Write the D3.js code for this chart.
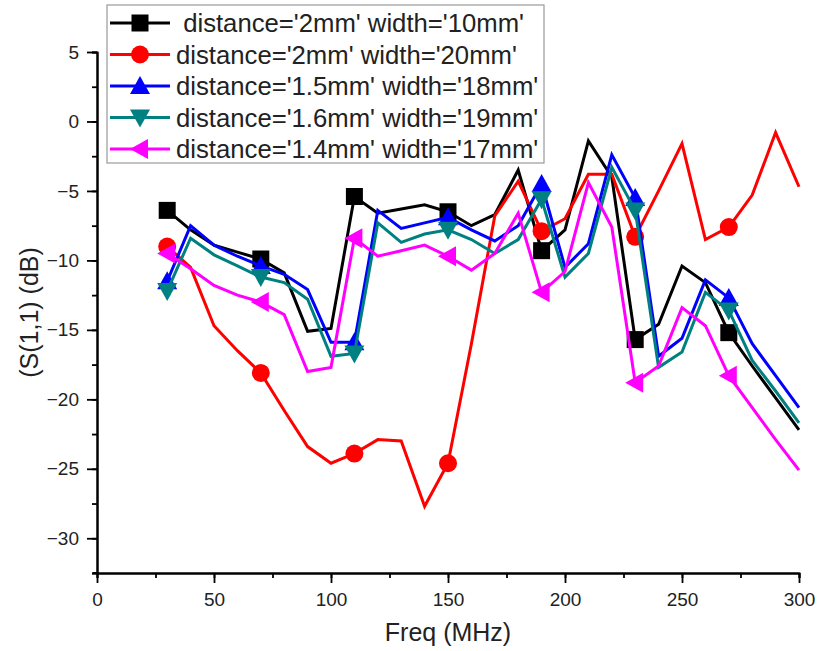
<!DOCTYPE html>
<html>
<head>
<meta charset="utf-8">
<script src="https://cdn.jsdelivr.net/npm/d3@7"></script>
<style>
  html, body { margin: 0; padding: 0; background: #fff; }
  svg { display: block; font-family: "Liberation Sans", Arial, sans-serif; }
</style>
</head>
<body>
<svg id="chart" width="820" height="651"></svg>
<script>
// Frequency sweep (MHz)
const freq = [30, 40, 50, 60, 70, 80, 90, 100, 110, 120, 130, 140, 150, 160,
              170, 180, 190, 200, 210, 220, 230, 240, 250, 260, 270, 280, 290, 300];

// S11 (dB) for each geometry
const s11_d2_w10 = [-6.4, -7.8, -8.9, -9.4, -9.9, -10.9, -15.1, -14.9, -5.4, -6.6, -6.3, -6.0, -6.5, -7.5,
                    -6.7, -3.5, -9.3, -7.8, -1.4, -4.0, -15.7, -14.6, -10.4, -11.6, -15.2, -17.6, -19.9, -22.2];
const s11_d2_w20 = [-9.0, -10.5, -14.7, -16.5, -18.1, -20.8, -23.4, -24.6, -23.9, -22.9, -23.0, -27.7, -24.6, -16.0,
                    -6.8, -4.3, -7.9, -7.0, -3.8, -3.8, -8.3, -5.0, -1.6, -8.5, -7.6, -5.3, -0.8, -4.7];
const s11_d15_w18 = [-11.5, -7.5, -8.9, -9.7, -10.4, -11.0, -12.1, -15.9, -15.9, -6.4, -7.7, -7.3, -6.9, -7.8,
                     -8.6, -7.5, -4.5, -10.5, -8.8, -2.4, -5.5, -16.9, -15.6, -11.4, -12.7, -16.0, -18.3, -20.6];
const s11_d16_w19 = [-12.2, -8.4, -9.6, -10.4, -11.2, -11.6, -12.8, -16.9, -16.7, -7.3, -8.7, -8.1, -7.8, -8.5,
                     -9.5, -8.5, -5.6, -11.2, -9.5, -3.3, -6.4, -17.7, -16.6, -12.3, -13.6, -17.2, -19.4, -21.7];
const s11_d14_w17 = [-9.5, -10.6, -11.8, -12.5, -13.0, -13.9, -18.0, -17.7, -8.4, -9.7, -9.3, -8.9, -9.7, -10.7,
                     -9.5, -6.6, -12.3, -10.8, -4.4, -7.6, -18.8, -17.6, -13.4, -14.7, -18.3, -20.6, -22.9, -25.1];

const seriesNames = [
  " distance='2mm' width='10mm'",
  "distance='2mm' width='20mm'",
  "distance='1.5mm' width='18mm'",
  "distance='1.6mm' width='19mm'",
  "distance='1.4mm' width='17mm'"
];
const seriesValues = [s11_d2_w10, s11_d2_w20, s11_d15_w18, s11_d16_w19, s11_d14_w17];
const seriesColors = ["#000000", "#ff0000", "#0000ff", "#008080", "#ff00ff"];
const seriesMarkers = ["square", "circle", "triUp", "triDown", "triLeft"];

const xTicks = [0, 50, 100, 150, 200, 250, 300];
const yTicks = [5, 0, -5, -10, -15, -20, -25, -30];

// Plot frame
const plotL = 97, plotR = 799, plotT = 52, plotB = 573;
const svg = d3.select("#chart");

const x = d3.scaleLinear().domain([0, 300]).range([plotL, plotR]);
const y = d3.scaleLinear().domain([-32.5, 5]).range([plotB, plotT]);

// Marker shapes, centred on the point
function markerPath(kind) {
  switch (kind) {
    case "square": return "M-8.5,-8.5H8.5V8.5H-8.5Z";
    case "circle": return "M9,0A9,9 0 1,1 -9,0A9,9 0 1,1 9,0Z";
    case "triUp": return "M0,-10L10,8L-10,8Z";
    case "triDown": return "M0,10L10,-8L-10,-8Z";
    case "triLeft": return "M-10,0L8,-10L8,10Z";
  }
}

// Axes
const axisFont = 19;
const xMinor = d3.range(0, 301, 25);
const yMinor = d3.range(-32.5, 5.01, 2.5);

const gx = svg.append("g").attr("transform", `translate(0,${plotB})`);
gx.call(d3.axisBottom(x).tickValues(xMinor).tickSize(5).tickFormat(""));
const gx2 = svg.append("g").attr("transform", `translate(0,${plotB})`);
gx2.call(d3.axisBottom(x).tickValues(xTicks).tickSize(10).tickSizeOuter(0).tickPadding(10).tickFormat(d3.format("d")));

const gy = svg.append("g").attr("transform", `translate(${plotL},0)`);
gy.call(d3.axisLeft(y).tickValues(yMinor).tickSize(5).tickFormat(""));
const gy2 = svg.append("g").attr("transform", `translate(${plotL},0)`);
gy2.call(d3.axisLeft(y).tickValues(yTicks).tickSize(10).tickSizeOuter(0).tickPadding(8).tickFormat(d3.format("d")));

[gx, gx2, gy, gy2].forEach(g => {
  g.attr("font-family", "'Liberation Sans', Arial, sans-serif");
  g.selectAll(".domain").attr("stroke", "#000").attr("stroke-width", 2);
  g.selectAll(".tick line").attr("stroke", "#000").attr("stroke-width", 1.8);
  g.selectAll("text").attr("font-size", axisFont).attr("fill", "#222");
});
// x axis line reaches just past the y axis
svg.append("line").attr("x1", plotL - 4).attr("x2", plotL).attr("y1", plotB).attr("y2", plotB)
  .attr("stroke", "#000").attr("stroke-width", 2);

// Axis titles
svg.append("text")
  .attr("x", (plotL + plotR) / 2).attr("y", 641)
  .attr("text-anchor", "middle").attr("font-size", 25).attr("fill", "#222")
  .text("Freq (MHz)");
svg.append("text")
  .attr("transform", `translate(38,${(plotT + plotB) / 2}) rotate(-90)`)
  .attr("text-anchor", "middle").attr("font-size", 25).attr("fill", "#222")
  .text("(S(1,1) (dB)");

// Series
const line = d3.line().x(d => x(d[0])).y(d => y(d[1]));
seriesValues.forEach((vals, i) => {
  const pts = freq.map((f, j) => [f, vals[j]]);
  const g = svg.append("g");
  g.append("path").datum(pts)
    .attr("d", line).attr("fill", "none")
    .attr("stroke", seriesColors[i]).attr("stroke-width", 3)
    .attr("stroke-linejoin", "miter");
  g.selectAll("path.m").data(pts.filter((d, j) => j % 4 === 0)).join("path")
    .attr("class", "m")
    .attr("transform", d => `translate(${x(d[0])},${y(d[1])})`)
    .attr("d", markerPath(seriesMarkers[i]))
    .attr("fill", seriesColors[i]);
});

// Legend
const lg = svg.append("g");
lg.append("rect").attr("x", 107).attr("y", 5).attr("width", 437).attr("height", 158)
  .attr("fill", "#fff").attr("stroke", "#999").attr("stroke-width", 1.2);
seriesNames.forEach((name, i) => {
  const cy = 23 + i * 31.5;
  lg.append("line").attr("x1", 110).attr("x2", 170).attr("y1", cy).attr("y2", cy)
    .attr("stroke", seriesColors[i]).attr("stroke-width", 3);
  lg.append("path").attr("transform", `translate(140,${cy})`)
    .attr("d", markerPath(seriesMarkers[i])).attr("fill", seriesColors[i]);
  lg.append("text").attr("x", 176).attr("y", cy + 9)
    .attr("font-size", 25.7).attr("fill", "#222")
    .style("white-space", "pre")
    .text(name);
});
</script>
</body>
</html>
